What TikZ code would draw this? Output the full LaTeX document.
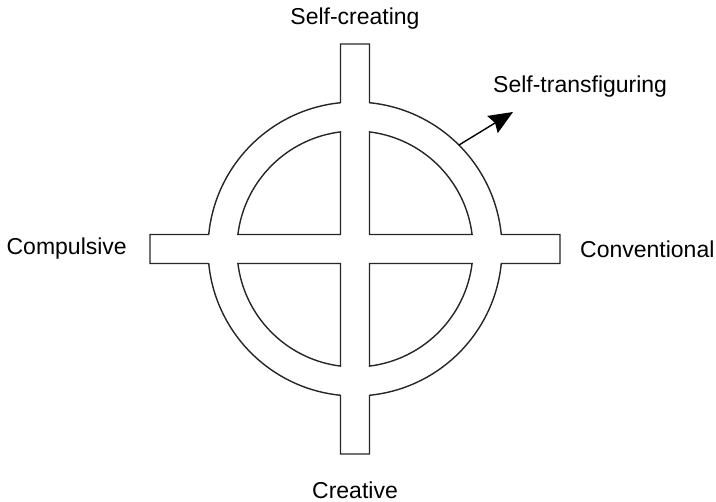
\documentclass[tikz,border=0pt]{standalone}
\usepackage{fontspec}
\setmainfont{Liberation Sans}
\usetikzlibrary{arrows.meta}
\begin{document}
\begin{tikzpicture}[x=1pt,y=1pt,
  shapeline/.style={line width=1.4pt, draw=black!85, line join=miter},
  lbl/.style={inner sep=0pt, font=\fontsize{23}{27}\selectfont},
  arr/.style={line width=1.4pt, -{Stealth[length=24pt,width=20pt,inset=3pt]}}]
\useasboundingbox (-355,-253) rectangle (361,249);
\def\R{147}\def\r{118}\def\w{14.5}\def\L{205}
\pgfmathsetmacro{\a}{asin(\w/\R)}
\pgfmathsetmacro{\b}{asin(\w/\r)}
% outer outline
\draw[shapeline] (-\w,\L) -- (\w,\L) -- (90-\a:\R)
  arc[start angle=90-\a, end angle=\a, radius=\R] -- (\L,\w) -- (\L,-\w) -- (-\a:\R)
  arc[start angle=-\a, end angle=-90+\a, radius=\R] -- (\w,-\L) -- (-\w,-\L) -- (-90-\a:\R)
  arc[start angle=-90-\a, end angle=-180+\a, radius=\R] -- (-\L,-\w) -- (-\L,\w) -- (180-\a:\R)
  arc[start angle=180-\a, end angle=90+\a, radius=\R] -- cycle;
% inner quadrants
\draw[shapeline] (\w,\w) -- (\b:\r) arc[start angle=\b, end angle=90-\b, radius=\r] -- cycle;
\draw[shapeline] (-\w,\w) -- (90+\b:\r) arc[start angle=90+\b, end angle=180-\b, radius=\r] -- cycle;
\draw[shapeline] (-\w,-\w) -- (180+\b:\r) arc[start angle=180+\b, end angle=270-\b, radius=\r] -- cycle;
\draw[shapeline] (\w,-\w) -- (270+\b:\r) arc[start angle=270+\b, end angle=360-\b, radius=\r] -- cycle;
% labels
\node[lbl] (top) at (0,230) {Self-creating};
\node[lbl] (bot) at (0,-241) {Creative};
\node[lbl, anchor=east] (left) at (-228,0) {Compulsive};
\node[lbl, anchor=west] (right) at (225,0) {Conventional};
\node[lbl, anchor=west] (st) at (138,162) {Self-transfiguring};
\coordinate (as) at (45:\R);
\coordinate (at) at (158,137);
\draw[arr] (as) -- (at);
\end{tikzpicture}
\end{document}
